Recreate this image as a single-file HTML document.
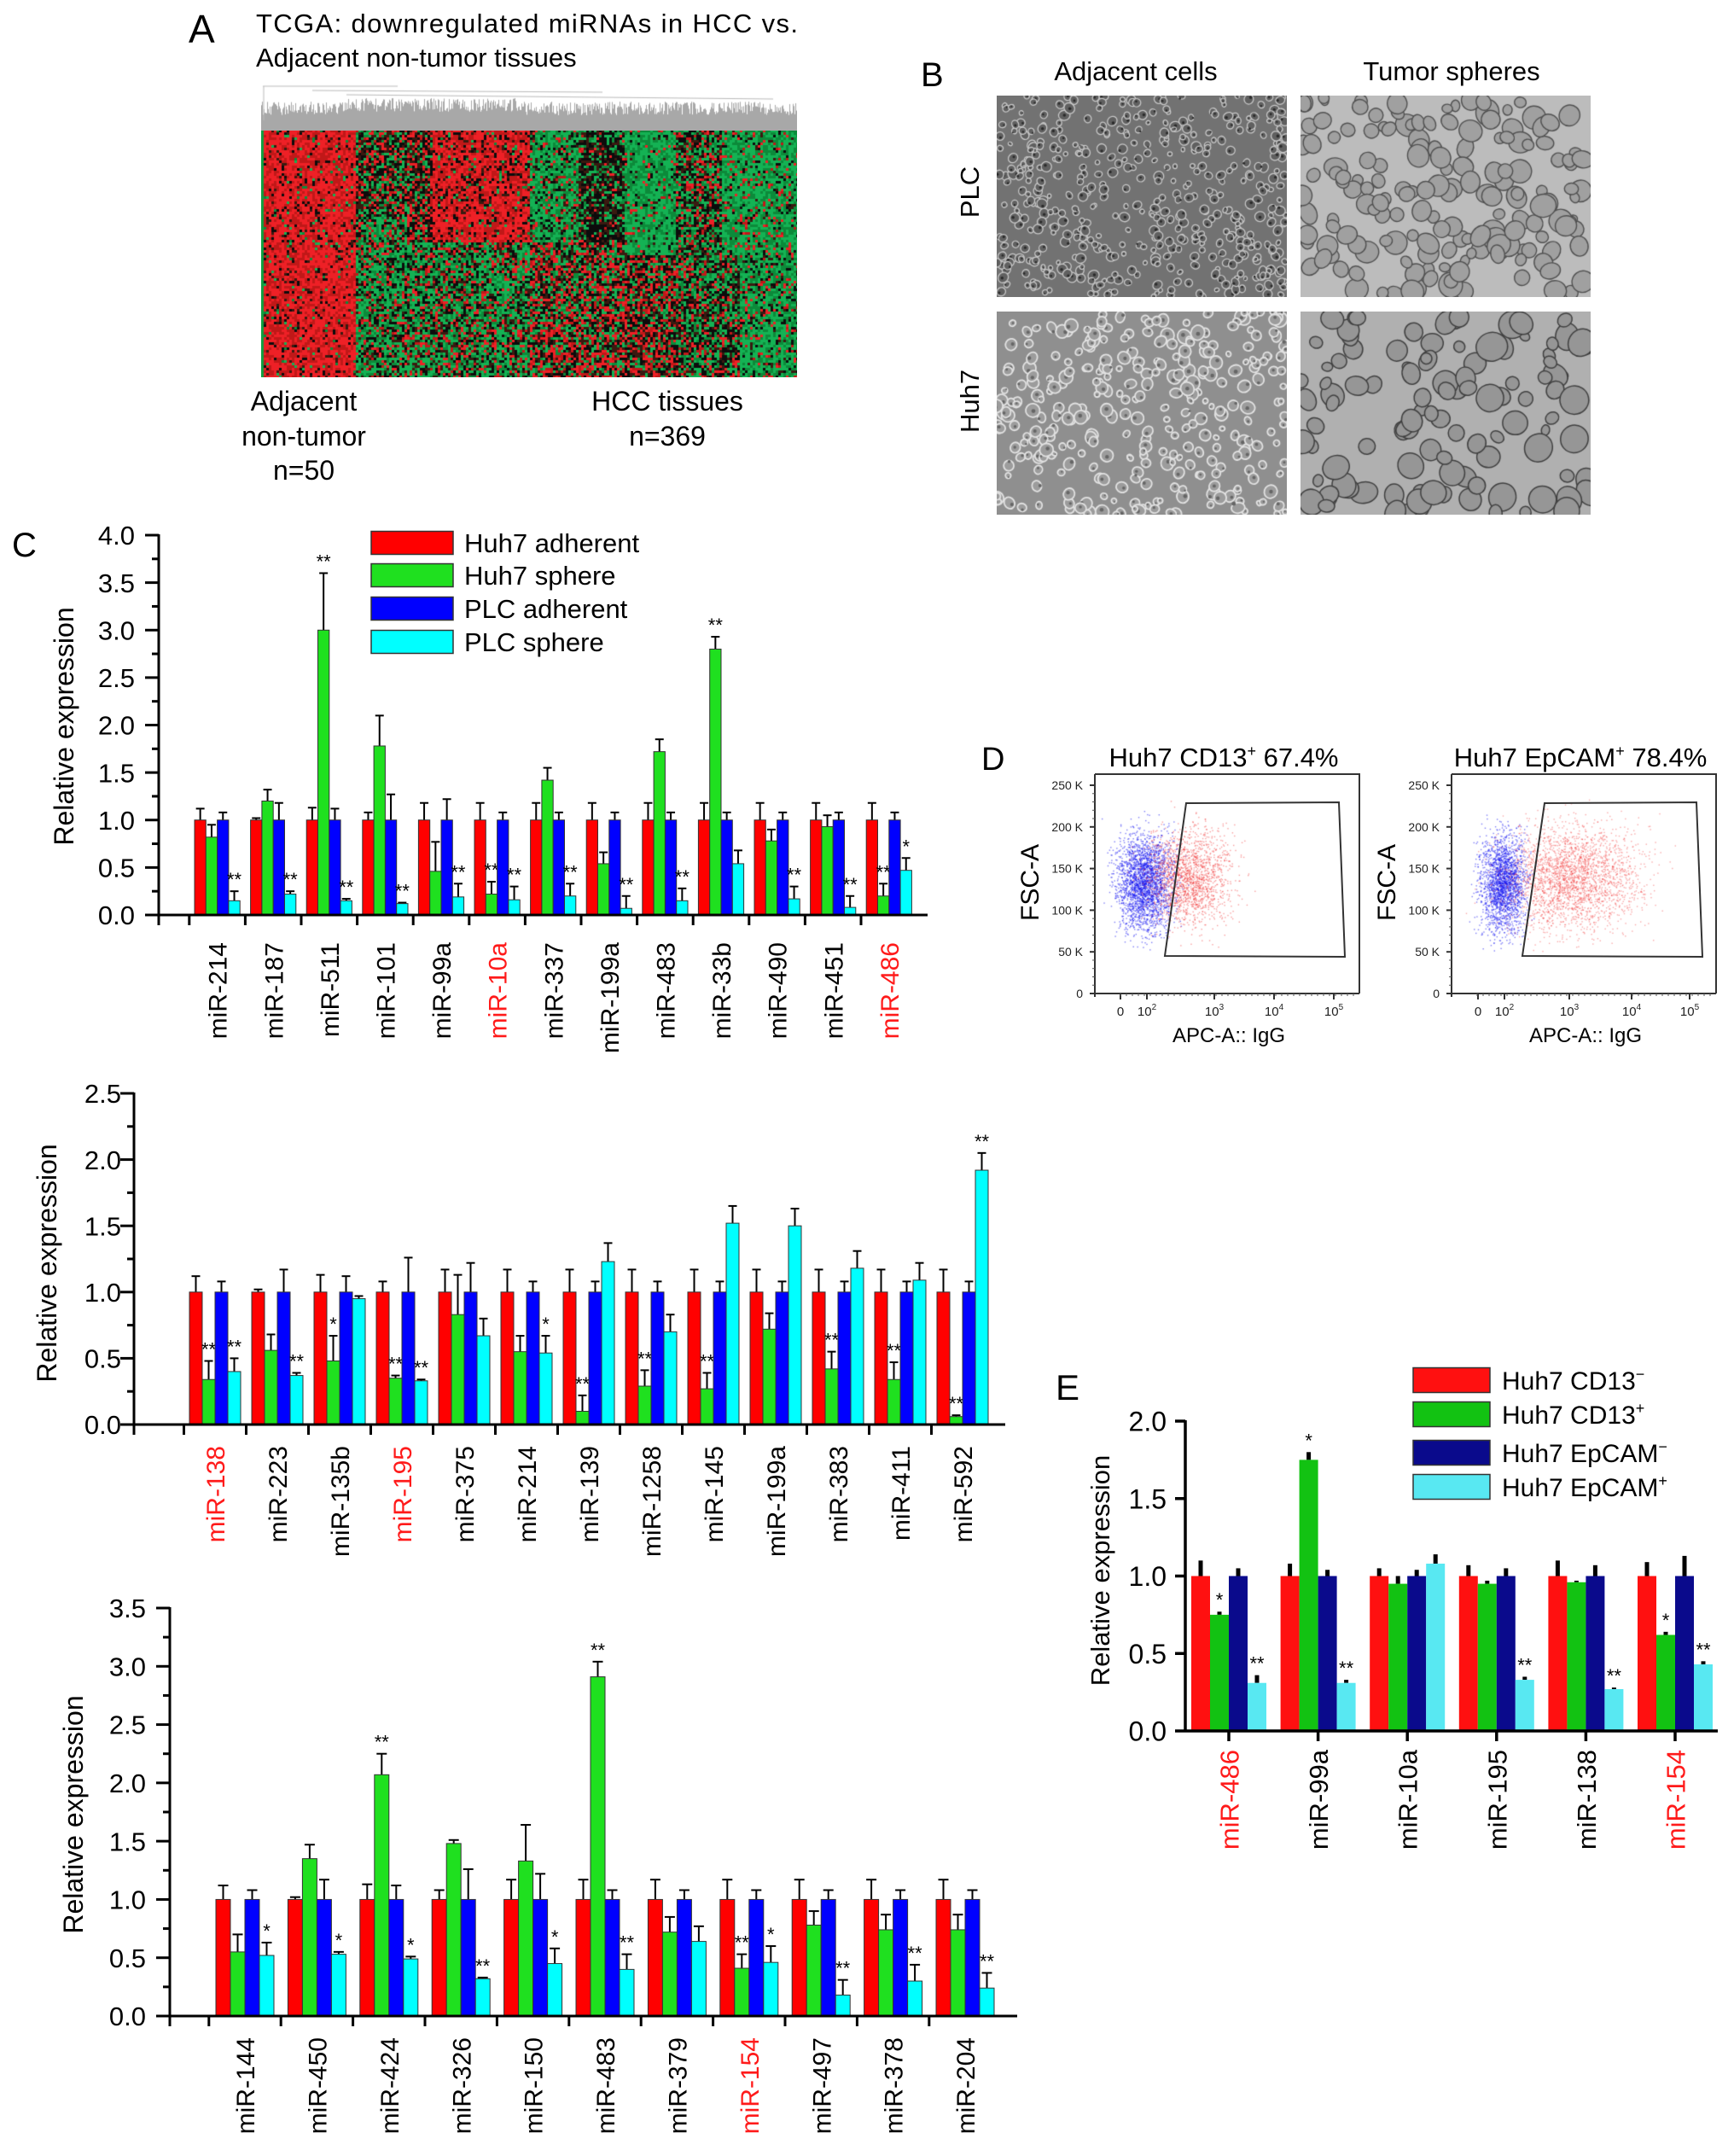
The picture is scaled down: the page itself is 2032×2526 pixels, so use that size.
<!DOCTYPE html>
<html><head><meta charset="utf-8">
<style>
html,body{margin:0;padding:0;background:#fff;}
#root{position:relative;width:2032px;height:2526px;overflow:hidden;background:#fff;font-family:"Liberation Sans",sans-serif;}
canvas{position:absolute;}
svg{position:absolute;left:0;top:0;}
</style></head>
<body>
<div id="root">
<canvas id="heat" width="628" height="346" style="left:306px;top:96px"></canvas>
<canvas id="dend" width="628" height="57" style="left:306px;top:96px"></canvas>
<canvas id="m1" width="340" height="236" style="left:1168px;top:112px"></canvas>
<canvas id="m2" width="340" height="236" style="left:1524px;top:112px"></canvas>
<canvas id="m3" width="340" height="238" style="left:1168px;top:365px"></canvas>
<canvas id="m4" width="340" height="238" style="left:1524px;top:365px"></canvas>
<canvas id="f1" width="310" height="257" style="left:1283px;top:907px"></canvas>
<canvas id="f2" width="310" height="257" style="left:1701px;top:907px"></canvas>
<svg id="svg" width="2032" height="2526" xmlns="http://www.w3.org/2000/svg" font-family="Liberation Sans, sans-serif">
<text x="221" y="50" font-size="46">A</text>
<text x="300" y="38" font-size="31" textLength="635">TCGA: downregulated miRNAs in HCC vs.</text>
<text x="300" y="78" font-size="31">Adjacent non-tumor tissues</text>
<g font-size="32" text-anchor="middle">
<text x="356" y="481">Adjacent</text>
<text x="356" y="522">non-tumor</text>
<text x="356" y="562">n=50</text>
<text x="782" y="481">HCC tissues</text>
<text x="782" y="522">n=369</text>
</g>
<text x="1079" y="101" font-size="40">B</text>
<text x="1331" y="94" font-size="31" text-anchor="middle">Adjacent cells</text>
<text x="1701" y="94" font-size="31" text-anchor="middle">Tumor spheres</text>
<text transform="translate(1147,225) rotate(-90)" font-size="31" text-anchor="middle">PLC</text>
<text transform="translate(1147,470) rotate(-90)" font-size="31" text-anchor="middle">Huh7</text>
<text x="1150" y="902" font-size="38">D</text>
<text x="1237" y="1640" font-size="42">E</text>
<text x="14" y="652" font-size="40">C</text>
<g id="flow"></g>
<g id="charts"></g>
</svg>
</div>
<script>
// ===== Chart C1 data =====
var c1Cats=["miR-214","miR-187","miR-511","miR-101","miR-99a","miR-10a","miR-337","miR-199a","miR-483","miR-33b","miR-490","miR-451","miR-486"];
var c1RedLabels=["miR-10a","miR-486"];
var c1Red=[1,1,1,1,1,1,1,1,1,1,1,1,1];
var c1RedTop=[1.12,1.02,1.13,1.08,1.18,1.18,1.18,1.18,1.18,1.18,1.18,1.18,1.18];
var c1Green=[0.82,1.2,3.0,1.78,0.46,0.22,1.42,0.54,1.72,2.8,0.78,0.93,0.2];
var c1GreenTop=[0.95,1.32,3.6,2.1,0.77,0.35,1.55,0.66,1.85,2.93,0.9,1.05,0.33];
var c1Blue=[1,1,1,1,1,1,1,1,1,1,1,1,1];
var c1BlueTop=[1.08,1.18,1.12,1.27,1.22,1.08,1.08,1.08,1.08,1.08,1.08,1.08,1.08];
var c1Cyan=[0.15,0.22,0.15,0.12,0.19,0.16,0.2,0.07,0.15,0.54,0.17,0.08,0.47];
var c1CyanTop=[0.25,0.25,0.17,0.13,0.33,0.3,0.33,0.2,0.28,0.68,0.3,0.2,0.6];
var c1StarG=["","","**","","","**","","","","**","","","**"];
var c1StarC=["**","**","**","**","**","**","**","**","**","","**","**","*"];
var c1Ticks=["0.0","0.5","1.0","1.5","2.0","2.5","3.0","3.5","4.0"];
// ===== Chart C2 data =====
var c2Cats=["miR-138","miR-223","miR-135b","miR-195","miR-375","miR-214","miR-139","miR-1258","miR-145","miR-199a","miR-383","miR-411","miR-592"];
var c2RedLabels=["miR-138","miR-195"];
var c2Red=[1,1,1,1,1,1,1,1,1,1,1,1,1];
var c2RedTop=[1.12,1.02,1.13,1.08,1.17,1.17,1.17,1.17,1.17,1.17,1.17,1.17,1.17];
var c2Green=[0.34,0.56,0.48,0.35,0.83,0.55,0.1,0.29,0.27,0.72,0.42,0.34,0.06];
var c2GreenTop=[0.48,0.68,0.67,0.37,1.13,0.67,0.22,0.41,0.39,0.84,0.55,0.47,0.07];
var c2Blue=[1,1,1,1,1,1,1,1,1,1,1,1,1];
var c2BlueTop=[1.08,1.17,1.12,1.26,1.22,1.08,1.08,1.08,1.08,1.08,1.08,1.08,1.08];
var c2Cyan=[0.4,0.37,0.95,0.33,0.67,0.54,1.23,0.7,1.52,1.5,1.18,1.09,1.92];
var c2CyanTop=[0.5,0.39,0.97,0.34,0.8,0.67,1.37,0.83,1.65,1.63,1.31,1.22,2.05];
var c2StarG=["**","","*","**","","","**","**","**","","**","**","**"];
var c2StarC=["**","**","","**","","*","","","","","","","**"];
var c2Ticks=["0.0","0.5","1.0","1.5","2.0","2.5"];
// ===== Chart C3 data =====
var c3Cats=["miR-144","miR-450","miR-424","miR-326","miR-150","miR-483","miR-379","miR-154","miR-497","miR-378","miR-204"];
var c3RedLabels=["miR-154"];
var c3Red=[1,1,1,1,1,1,1,1,1,1,1];
var c3RedTop=[1.12,1.02,1.13,1.08,1.17,1.17,1.17,1.17,1.17,1.17,1.17];
var c3Green=[0.55,1.35,2.07,1.48,1.33,2.91,0.72,0.41,0.78,0.74,0.74];
var c3GreenTop=[0.7,1.47,2.25,1.51,1.64,3.04,0.85,0.53,0.9,0.87,0.87];
var c3Blue=[1,1,1,1,1,1,1,1,1,1,1];
var c3BlueTop=[1.08,1.17,1.12,1.26,1.22,1.08,1.08,1.08,1.08,1.08,1.08];
var c3Cyan=[0.52,0.53,0.49,0.32,0.45,0.4,0.64,0.46,0.18,0.3,0.24];
var c3CyanTop=[0.63,0.55,0.51,0.33,0.58,0.53,0.77,0.6,0.31,0.44,0.37];
var c3StarG=["","","**","","","**","","**","","",""];
var c3StarC=["*","*","*","**","*","**","","*","**","**","**"];
var c3Ticks=["0.0","0.5","1.0","1.5","2.0","2.5","3.0","3.5"];
// ===== Chart E data =====
var eCats=["miR-486","miR-99a","miR-10a","miR-195","miR-138","miR-154"];
var eRedLabels=["miR-486","miR-154"];
var eRed=[1,1,1,1,1,1];
var eRedTop=[1.1,1.08,1.05,1.07,1.1,1.09];
var eGreen=[0.75,1.75,0.95,0.95,0.96,0.62];
var eGreenTop=[0.77,1.8,1.0,0.97,0.97,0.64];
var eBlue=[1,1,1,1,1,1];
var eBlueTop=[1.05,1.04,1.04,1.05,1.07,1.13];
var eCyan=[0.31,0.31,1.08,0.33,0.27,0.43];
var eCyanTop=[0.36,0.33,1.14,0.35,0.28,0.45];
var eStarG=["*","*","","","","*"];
var eStarC=["**","**","","**","**","**"];
var eTicks=["0.0","0.5","1.0","1.5","2.0"];

var NS="http://www.w3.org/2000/svg";
var charts=document.getElementById('charts');
function el(tag,attrs,parent,txt){var e=document.createElementNS(NS,tag);for(var k in attrs)e.setAttribute(k,attrs[k]);if(txt!==undefined)e.textContent=txt;(parent||charts).appendChild(e);return e;}

function barChart(o){
  var g=el('g',{});
  
  
  var yMax=parseFloat(o.ticks[o.ticks.length-1]);
  function ys(v){return o.yZero-(v/yMax)*(o.yZero-o.yTop);}
  function xs(i,s){return o.firstX+i*o.pitch+s*o.barW;}
  var series=[[o.red,o.redTop],[o.green,o.greenTop],[o.blue,o.blueTop],[o.cyan,o.cyanTop]];
  var names=['red','green','blue','cyan'];
  for(var i=0;i<o.cats.length;i++){
    for(var s=0;s<4;s++){
      var v=series[s][0][i],t=series[s][1][i];
      var x=xs(i,s),cx=x+o.barW/2;
      if(t>v){
        var ln=el('line',{x1:cx,x2:cx,y1:ys(v),y2:ys(t),stroke:'#000','stroke-width':o.errW},g);
        
        
        if(o.capW>0){var cp=el('line',{x1:cx-o.capW,x2:cx+o.capW,y1:ys(t),y2:ys(t),stroke:'#000','stroke-width':o.errW},g);
        
        }
      }
      var r=el('rect',{x:x,y:ys(v),width:o.barW,height:Math.max(0,o.yZero-ys(v)),fill:o.colors[s],stroke:o.outline,'stroke-width':o.outlineW},g);
      
      
      var star=s==1?o.starG[i]:(s==3?o.starC[i]:'');
      if(star){var st=el('text',{x:cx,y:ys(Math.max(t,v))-o.starGap,'font-size':o.starSize,'text-anchor':'middle'},g,star);
        
        }
    }
    var lc=o.redLabels.indexOf(o.cats[i])>=0?'#ff1a1a':'#000';
    var gc=o.firstX+i*o.pitch+2*o.barW;
    var lb=el('text',{transform:'translate('+(gc+o.labelFont*0.37)+','+(o.yZero+o.labelOff)+') rotate(-90)','font-size':o.labelFont,'text-anchor':'end',fill:lc},g,o.cats[i]);
    
    
    var tx=o.tickAtCenter?gc:(o.firstX+i*o.pitch-(o.pitch-4*o.barW)/2);
    var tk=el('line',{x1:tx,x2:tx,y1:o.yZero,y2:o.yZero+o.xTickLen,stroke:'#000','stroke-width':o.axisW},g);
    
    
  }
  var ya=el('line',{x1:o.x0,x2:o.x0,y1:o.yTop-1,y2:o.yZero+(o.tickAtCenter?0:o.xTickLen),stroke:'#000','stroke-width':o.axisW},g);
  
  
  var xa=el('line',{x1:o.x0,x2:o.xEnd,y1:o.yZero,y2:o.yZero,stroke:'#000','stroke-width':o.axisW},g);
  
  
  for(var k=0;k<o.ticks.length;k++){
    var tv=parseFloat(o.ticks[k]),yy=ys(tv);
    var t1=el('line',{x1:o.x0-o.yTickLen,x2:o.x0,y1:yy,y2:yy,stroke:'#000','stroke-width':o.axisW},g);
    
    
    var tl=el('text',{x:o.x0-o.labelGap,y:yy+o.tickFont*0.36,'font-size':o.tickFont,'text-anchor':'end'},g,o.ticks[k]);
    
    
    if(o.minor&&k<o.ticks.length-1){var step=parseFloat(o.ticks[k+1])-tv;var ym=ys(tv+step/2);
      var t2=el('line',{x1:o.x0-o.yTickLen/2,x2:o.x0,y1:ym,y2:ym,stroke:'#000','stroke-width':o.axisW},g);
      
      }
  }
  var yt=el('text',{transform:'translate('+o.titleX+','+o.titleY+') rotate(-90)','font-size':o.titleFont,'text-anchor':'middle'},g,'Relative expression');
  
  
}

var colC=['#ff0000','#1fe01f','#0000ff','#00ffff'];
var colE=['#ff1010','#12c212','#0a0a8c','#58e8f2'];
barChart({name:'chart-c1',cats:c1Cats,redLabels:c1RedLabels,red:c1Red,redTop:c1RedTop,green:c1Green,greenTop:c1GreenTop,blue:c1Blue,blueTop:c1BlueTop,cyan:c1Cyan,cyanTop:c1CyanTop,starG:c1StarG,starC:c1StarC,ticks:c1Ticks,
  x0:186,xEnd:1087,yZero:1072,yTop:627,firstX:228,pitch:65.6,barW:13.3,colors:colC,outline:'#333',outlineW:1,errW:2,capW:5,starGap:6,starSize:22,
  labelFont:30,labelOff:32,tickAtCenter:false,xTickLen:12,axisW:3,yTickLen:16,labelGap:28,tickFont:31,minor:true,titleX:86,titleY:851,titleFont:32});
barChart({name:'chart-c2',cats:c2Cats,redLabels:c2RedLabels,red:c2Red,redTop:c2RedTop,green:c2Green,greenTop:c2GreenTop,blue:c2Blue,blueTop:c2BlueTop,cyan:c2Cyan,cyanTop:c2CyanTop,starG:c2StarG,starC:c2StarC,ticks:c2Ticks,
  x0:157,xEnd:1178,yZero:1669,yTop:1281,firstX:222,pitch:73,barW:15,colors:colC,outline:'#333',outlineW:1,errW:2,capW:5,starGap:6,starSize:22,
  labelFont:30,labelOff:25,tickAtCenter:false,xTickLen:12,axisW:3,yTickLen:16,labelGap:15,tickFont:31,minor:true,titleX:66,titleY:1480,titleFont:32});
barChart({name:'chart-c3',cats:c3Cats,redLabels:c3RedLabels,red:c3Red,redTop:c3RedTop,green:c3Green,greenTop:c3GreenTop,blue:c3Blue,blueTop:c3BlueTop,cyan:c3Cyan,cyanTop:c3CyanTop,starG:c3StarG,starC:c3StarC,ticks:c3Ticks,
  x0:199,xEnd:1192,yZero:2362,yTop:1884,firstX:253,pitch:84.4,barW:17,colors:colC,outline:'#333',outlineW:1,errW:2,capW:6,starGap:6,starSize:22,
  labelFont:30,labelOff:25,tickAtCenter:false,xTickLen:12,axisW:3,yTickLen:16,labelGap:28,tickFont:31,minor:true,titleX:97,titleY:2126,titleFont:32});
barChart({name:'chart-e',cats:eCats,redLabels:eRedLabels,red:eRed,redTop:eRedTop,green:eGreen,greenTop:eGreenTop,blue:eBlue,blueTop:eBlueTop,cyan:eCyan,cyanTop:eCyanTop,starG:eStarG,starC:eStarC,ticks:eTicks,
  x0:1389,xEnd:2013,yZero:2028,yTop:1665,firstX:1396,pitch:104.6,barW:22,colors:colE,outline:'none',outlineW:0,errW:5,capW:0,starGap:6,starSize:22,
  labelFont:31,labelOff:22,tickAtCenter:true,xTickLen:12,axisW:3.5,yTickLen:12,labelGap:22,tickFont:32,minor:false,titleX:1300,titleY:1840,titleFont:31});

function legend(x0,ys,labels,cols,bw,bh,tx,fs,name){
  for(var i=0;i<labels.length;i++){
    var r=el('rect',{x:x0,y:ys[i]-bh/2,width:bw,height:bh,fill:cols[i],stroke:'#333','stroke-width':1.5});
    
    
    var t=el('text',{x:tx,y:ys[i]+fs*0.36,'font-size':fs});
    
    
    var p=labels[i];
    el('tspan',{},t,p[0]);
    if(p[1]){el('tspan',{dy:-12,'font-size':fs*0.6},t,p[1]);}
  }
}
legend(435,[636,674,713,752],[["Huh7 adherent"],["Huh7 sphere"],["PLC adherent"],["PLC sphere"]],colC,96,27,544,31,'legend-c');
legend(1656,[1617,1657,1702,1742],[["Huh7 CD13","\u2212"],["Huh7 CD13","+"],["Huh7 EpCAM","\u2212"],["Huh7 EpCAM","+"]],colE,90,29,1760,30,'legend-e');

var flow=document.getElementById('flow');
function flowPlot(fx,title,gate,lx,name){
  var g=el('g',{},flow);
  
  
  var w=310,top=907,bot=1164;
  el('path',{d:'M'+fx+' '+top+' H'+(fx+w)+' V'+bot,fill:'none',stroke:'#333','stroke-width':2},g);
  el('line',{x1:fx,x2:fx,y1:top,y2:bot+4,stroke:'#333','stroke-width':2},g);
  el('line',{x1:fx-4,x2:fx+w,y1:bot,y2:bot,stroke:'#333','stroke-width':2},g);
  var yl=["0","50 K","100 K","150 K","200 K","250 K"];
  for(var i=0;i<6;i++){var y=1164-i*48.8;
    el('line',{x1:fx-6,x2:fx,y1:y,y2:y,stroke:'#333','stroke-width':2},g);
    var t=el('text',{x:fx-14,y:y+5,'font-size':14,'text-anchor':'end',fill:'#222'},g,yl[i]);
    
    
    for(var m=1;m<5&&i<5;m++){el('line',{x1:fx-3,x2:fx,y1:y-m*9.76,y2:y-m*9.76,stroke:'#555','stroke-width':1},g);}
  }
  for(var k=0;k<lx.length;k++){
    el('line',{x1:lx[k][0],x2:lx[k][0],y1:bot,y2:bot+7,stroke:'#333','stroke-width':2},g);
    var t2=el('text',{x:lx[k][0],y:1190,'font-size':15,'text-anchor':'middle',fill:'#222'},g);
    
    
    el('tspan',{},t2,lx[k][1]);
    if(lx[k][2])el('tspan',{dy:-7,'font-size':10},t2,lx[k][2]);
  }
  for(var q=0;q<40;q++){var xx=fx+30+q*7;el('line',{x1:xx,x2:xx,y1:bot,y2:bot+3,stroke:'#555','stroke-width':1},g);}
  var pts=gate.map(function(p){return p.join(',');}).join(' ');
  var gp=el('polygon',{points:pts,fill:'none',stroke:'#333','stroke-width':2},g);
  
  
  var tt=el('text',{x:fx+w/2-4,y:898,'font-size':31,'text-anchor':'middle'},g);
  
  
  el('tspan',{},tt,title[0]);el('tspan',{dy:-12,'font-size':18},tt,'+');el('tspan',{dy:12},tt,title[1]);
  var ax=el('text',{x:fx+157,y:1221,'font-size':24,'text-anchor':'middle'},g,'APC-A:: IgG');
  
  
  var ay=el('text',{transform:'translate('+(fx-66)+',1034) rotate(-90)','font-size':30,'text-anchor':'middle'},g,'FSC-A');
  
  
}
flowPlot(1283,['Huh7 CD13',' 67.4%'],[[1390,941],[1569,940],[1576,1121],[1365,1120]],[[1313,'0'],[1344,'10','2'],[1423,'10','3'],[1493,'10','4'],[1563,'10','5']],'flow-plot-cd13');
flowPlot(1701,['Huh7 EpCAM',' 78.4%'],[[1810,941],[1988,940],[1995,1121],[1784,1120]],[[1732,'0'],[1763,'10','2'],[1839,'10','3'],[1912,'10','4'],[1980,'10','5']],'flow-plot-epcam');

var seed=12345;
function rnd(){seed|=0;seed=seed+0x6D2B79F5|0;var t=Math.imul(seed^seed>>>15,1|seed);t=t+Math.imul(t^t>>>7,61|t)^t;return((t^t>>>14)>>>0)/4294967296;}
function gauss(){return (rnd()+rnd()+rnd()+rnd()-2)/0.58;}

(function(){
  var c=document.getElementById('heat').getContext('2d');
  c.fillStyle='#111';c.fillRect(0,0,628,346);
  var y0=56,H=290;
  // blocks: [x0,x1,y0f,y1f,pRed,pGreen]
  var blocks=[[0,109,0,1,0.85,0.04],[109,170,0,0.35,0.25,0.3],[109,170,0.35,1,0.15,0.55],
    [170,200,0,0.5,0.3,0.2],[200,313,0,0.45,0.75,0.05],[170,313,0.45,1,0.2,0.5],
    [313,370,0,0.45,0.1,0.7],[370,425,0,0.45,0.05,0.3],[313,425,0.45,1,0.35,0.3],
    [425,486,0,0.5,0.05,0.85],[425,486,0.5,1,0.35,0.25],[486,540,0,0.5,0.2,0.4],[540,628,0,0.5,0.1,0.8],
    [486,560,0.5,1,0.2,0.4],[560,628,0.5,1,0.1,0.7]];
  var cw=3,ch=3;
  for(var x=0;x<628;x+=cw){
    for(var y=y0;y<y0+H;y+=ch){
      var f=(y-y0)/H,pr=0.3,pg=0.35;
      for(var k=0;k<blocks.length;k++){var b=blocks[k];if(x>=b[0]&&x<b[1]&&f>=b[2]&&f<b[3]){pr=b[4];pg=b[5];}}
      var u=rnd();
      if(u<pr)c.fillStyle=rnd()<0.6?'#ee2026':'#c01818';
      else if(u<pr+pg)c.fillStyle=rnd()<0.6?'#14b254':'#0c8a3a';
      else c.fillStyle=rnd()<0.6?'#0c0c0c':'#3a1a10';
      c.fillRect(x,y,cw,ch);
    }
  }
  c.fillStyle='#10a040';c.fillRect(0,y0,3,H);
})();
(function(){
  var c=document.getElementById('dend').getContext('2d');
  c.fillStyle='#fff';c.fillRect(0,0,628,57);
  c.fillStyle='#a8a8a8';
  for(var x=0;x<628;x+=1){var h=18+rnd()*16+(x>100&&x<300?4:0);c.fillRect(x,57-h,1,h);}
  c.strokeStyle='#bbb';c.lineWidth=1;
  c.beginPath();c.moveTo(2,5);c.lineTo(160,5);c.moveTo(60,10);c.lineTo(400,12);c.moveTo(100,15);c.lineTo(600,20);c.moveTo(3,5);c.lineTo(3,45);c.stroke();
})();
function micro(id,bg,n,rmin,rmax,fill,stroke,lw,dark){
  var cv=document.getElementById(id),c=cv.getContext('2d'),W=cv.width,H=cv.height;
  c.fillStyle=bg;c.fillRect(0,0,W,H);
  for(var i=0;i<n;i++){
    var x=rnd()*W,y=rnd()*H,r=rmin+rnd()*(rmax-rmin);
    c.beginPath();c.ellipse(x,y,r,r*(0.75+rnd()*0.4),rnd()*3,0,6.3);
    if(fill){c.fillStyle=fill;c.fill();}
    c.strokeStyle=stroke;c.lineWidth=lw;c.stroke();
    if(dark){c.fillStyle=dark;c.beginPath();c.arc(x+gauss()*r*0.3,y+gauss()*r*0.3,r*0.3,0,6.3);c.fill();}
  }
}
micro('m1','#727272',500,2.5,6,'#606060','#c8c8c8',1.3,'#2a2a2a');
micro('m2','#bcbcbc',170,6,14,'#a0a0a0','#505050',1.4,null);
micro('m3','#8f8f8f',320,3,8,'#9c9c9c','#e2e2e2',1.8,'#666');
micro('m4','#b0b0b0',110,6,17,'#969696','#404040',1.5,null);
function dots(id,clouds){
  var c=document.getElementById(id).getContext('2d');
  for(var k=0;k<clouds.length;k++){var cl=clouds[k];c.fillStyle=cl[5];
    for(var i=0;i<cl[0];i++){c.fillRect(cl[1]+gauss()*cl[3],cl[2]+gauss()*cl[4],1.4,1.4);}}
}
dots('f1',[[2600,58,127,16,28,'rgba(20,20,240,0.55)'],[1700,110,121,24,28,'rgba(240,40,40,0.45)']]);
dots('f2',[[2200,60,127,13,28,'rgba(20,20,240,0.55)'],[2600,142,121,38,30,'rgba(240,40,40,0.4)']]);
</script>
</body></html>
